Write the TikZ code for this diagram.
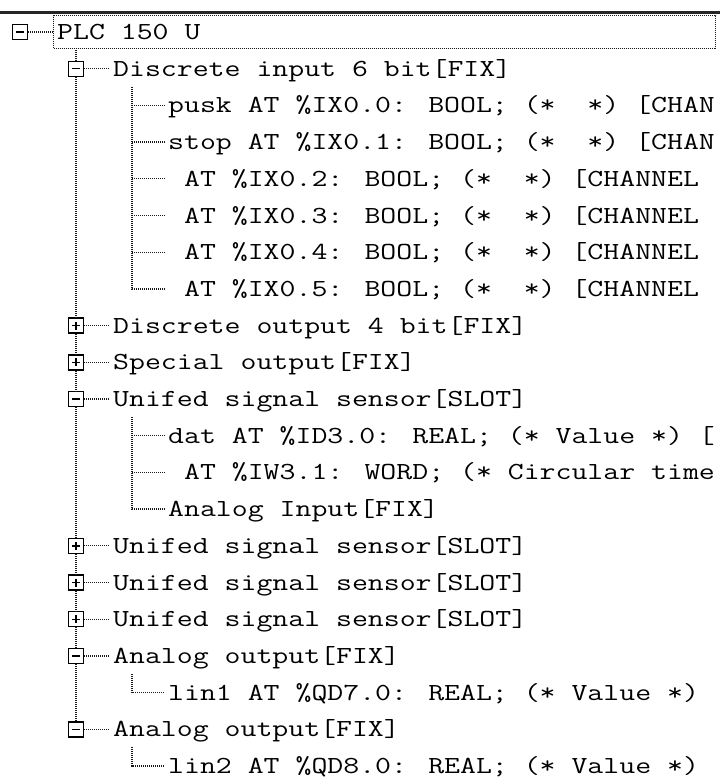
\documentclass[tikz,border=0pt]{standalone}
\usepackage{graphicx}

\newcommand\treefont{\fontsize{24.5}{24.5}\selectfont\ttfamily}
\newcommand\wide[1]{\scalebox{1.262}[1]{#1}}

\tikzset{
  treeline/.style={line width=1.3pt, black!90, dash pattern=on 1pt off 1pt},
  treebox/.style={draw, fill=white, line width=1.4pt, minimum size=15pt, inner sep=0pt},
  minusbox/.style={treebox, path picture={
    \draw[line width=1.4pt] ([xshift=3.5pt]path picture bounding box.west) -- ([xshift=-3.5pt]path picture bounding box.east);}},
  plusbox/.style={treebox, path picture={
    \draw[line width=1.4pt] ([xshift=3.5pt]path picture bounding box.west) -- ([xshift=-3.5pt]path picture bounding box.east)
      ([yshift=-3.5pt]path picture bounding box.north) -- ([yshift=3.5pt]path picture bounding box.south);}},
  entry/.style={anchor=west, inner sep=0pt, text height=15pt, text depth=0pt, font=\treefont},
}

\begin{document}
\begin{tikzpicture}[x=1pt,y=-1pt]
\useasboundingbox (0,0) rectangle (720,779);
\clip (0,0) rectangle (720,779);

\draw[line width=2.5pt, black!85] (0,12.5) -- (720,12.5);

% root
\node[treeline, draw, anchor=north west, minimum width=662pt, minimum height=33pt, inner sep=0pt] (focus) at (53,15) {};
\node[minusbox] (b-plc) at (20,32) {};
\node[entry] (t-plc) at (57,32) {\wide{PLC 150 U}};
\draw[treeline] (b-plc.east) -- (b-plc.east -| focus.west);

% modules
\coordinate (l1top) at (76,50);
\node[minusbox] (b-din)   at (76,68.7)  {};
\node[plusbox]  (b-dout)  at (76,325.6) {};
\node[plusbox]  (b-spec)  at (76,362.3) {};
\node[minusbox] (b-uss1)  at (76,399)   {};
\node[plusbox]  (b-uss2)  at (76,545.8) {};
\node[plusbox]  (b-uss3)  at (76,582.5) {};
\node[plusbox]  (b-uss4)  at (76,619.2) {};
\node[minusbox] (b-aout1) at (76,655.9) {};
\node[minusbox] (b-aout2) at (76,729.3) {};

\node[entry] (t-din)   at (113,68.7)  {\wide{Discrete input 6 bit[FIX]}};
\node[entry] (t-dout)  at (113,325.6) {\wide{Discrete output 4 bit[FIX]}};
\node[entry] (t-spec)  at (113,362.3) {\wide{Special output[FIX]}};
\node[entry] (t-uss1)  at (113,399)   {\wide{Unifed signal sensor[SLOT]}};
\node[entry] (t-uss2)  at (113,545.8) {\wide{Unifed signal sensor[SLOT]}};
\node[entry] (t-uss3)  at (113,582.5) {\wide{Unifed signal sensor[SLOT]}};
\node[entry] (t-uss4)  at (113,619.2) {\wide{Unifed signal sensor[SLOT]}};
\node[entry] (t-aout1) at (113,655.9) {\wide{Analog output[FIX]}};
\node[entry] (t-aout2) at (113,729.3) {\wide{Analog output[FIX]}};

\draw[treeline] (l1top) -- (b-din.north);
\draw[treeline] (b-din.south) -- (b-dout.north);
\draw[treeline] (b-dout.south) -- (b-spec.north);
\draw[treeline] (b-spec.south) -- (b-uss1.north);
\draw[treeline] (b-uss1.south) -- (b-uss2.north);
\draw[treeline] (b-uss2.south) -- (b-uss3.north);
\draw[treeline] (b-uss3.south) -- (b-uss4.north);
\draw[treeline] (b-uss4.south) -- (b-aout1.north);
\draw[treeline] (b-aout1.south) -- (b-aout2.north);
\foreach \mod in {din,dout,spec,uss1,uss2,uss3,uss4,aout1,aout2}
  \draw[treeline] (b-\mod.east) -- ([xshift=-3pt]t-\mod.west);

% channels
\node[entry] (t-pusk) at (168,105.4) {\wide{pusk AT \%IX0.0: BOOL; (*~~*) [CHAN}};
\node[entry] (t-stop) at (168,142.1) {\wide{stop AT \%IX0.1: BOOL; (*~~*) [CHAN}};
\node[entry] (t-ix2)  at (168,178.8) {\wide{\ AT \%IX0.2: BOOL; (*~~*) [CHANNEL}};
\node[entry] (t-ix3)  at (168,215.5) {\wide{\ AT \%IX0.3: BOOL; (*~~*) [CHANNEL}};
\node[entry] (t-ix4)  at (168,252.2) {\wide{\ AT \%IX0.4: BOOL; (*~~*) [CHANNEL}};
\node[entry] (t-ix5)  at (168,288.9) {\wide{\ AT \%IX0.5: BOOL; (*~~*) [CHANNEL}};
\node[entry] (t-dat)  at (168,435.7) {\wide{dat AT \%ID3.0: REAL; (* Value *) [}};
\node[entry] (t-iw)   at (168,472.4) {\wide{\ AT \%IW3.1: WORD; (* Circular time}};
\node[entry] (t-ain)  at (168,509.1) {\wide{Analog Input[FIX]}};
\node[entry] (t-lin1) at (168,692.6) {\wide{lin1 AT \%QD7.0: REAL; (* Value *)}};
\node[entry] (t-lin2) at (168,766)   {\wide{lin2 AT \%QD8.0: REAL; (* Value *)}};

\coordinate (g-din)   at (132,86.7);
\coordinate (g-uss1)  at (132,417);
\coordinate (g-aout1) at (132,673.9);
\coordinate (g-aout2) at (132,747.3);

\draw[treeline] (g-din) |- ([xshift=-3pt]t-ix5.west);
\foreach \leaf in {pusk,stop,ix2,ix3,ix4}
  \draw[treeline] (g-din |- t-\leaf.west) -- ([xshift=-3pt]t-\leaf.west);
\draw[treeline] (g-uss1) |- ([xshift=-3pt]t-ain.west);
\foreach \leaf in {dat,iw}
  \draw[treeline] (g-uss1 |- t-\leaf.west) -- ([xshift=-3pt]t-\leaf.west);
\draw[treeline] (g-aout1) |- ([xshift=-3pt]t-lin1.west);
\draw[treeline] (g-aout2) |- ([xshift=-3pt]t-lin2.west);

\end{tikzpicture}
\end{document}
